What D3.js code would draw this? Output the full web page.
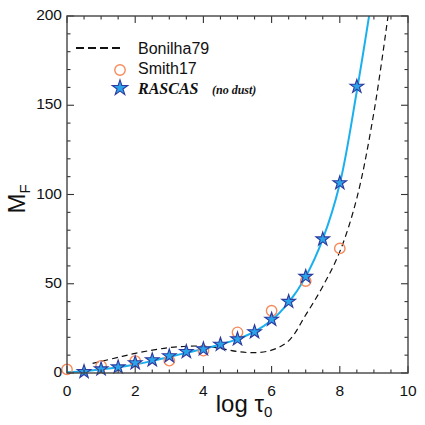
<!DOCTYPE html>
<html>
<head>
<meta charset="utf-8">
<script src="https://cdn.jsdelivr.net/npm/d3@7"></script>
<style>
  body { margin: 0; background: #fff; }
  text { font-family: "Liberation Sans", Arial, sans-serif; fill: #111; }
</style>
</head>
<body>
<svg id="chart" width="425" height="425"></svg>
<script>
// RASCAS (no dust) points
var rascasX = [0.5, 1, 1.5, 2, 2.5, 3, 3.5, 4, 4.5, 5, 5.5, 6, 6.5, 7, 7.5, 8, 8.5];
var rascasY = [0.7, 2.2, 3.3, 5.6, 7.3, 9.5, 11.9, 13.4, 16, 19, 23, 30, 40, 54, 75, 106.5, 160.5];

// Smith17 points
var smithX = [0, 1, 2, 3, 4, 5, 6, 7, 8];
var smithY = [2, 4, 6.7, 6.9, 12.5, 22.8, 34.9, 51.5, 69.8];

// solid fit line through the RASCAS points
var fitX = [0, 0.5, 1, 1.5, 2, 2.5, 3, 3.5, 4, 4.5, 5, 5.5, 6, 6.5, 7, 7.5, 8, 8.5, 8.9];
var fitY = [0.4, 1, 2, 3.2, 4.8, 6.8, 9, 11.3, 13.5, 16, 19, 23.2, 29.5, 39.5, 54, 75, 106, 158, 205];

// Bonilha79 dashed curve
var bonX = [0.75, 1, 1.5, 2, 2.5, 3, 3.5, 4, 4.5, 5, 5.5, 6, 6.5, 7, 7.5, 8, 8.5, 9, 9.45];
var bonY = [5.4, 6.5, 8.8, 11, 12.8, 14.2, 15, 15, 13.8, 12, 11.4, 12.8, 18, 32.5, 48.5, 68, 98, 146, 205];

var xTicks = [0, 2, 4, 6, 8, 10];
var yTicks = [0, 50, 100, 150, 200];

var margin = {top: 16, right: 17, bottom: 52, left: 67};
var width = 425 - margin.left - margin.right;
var height = 425 - margin.top - margin.bottom;

var svg = d3.select("#chart");
var g = svg.append("g").attr("transform", "translate(" + margin.left + "," + margin.top + ")");

var x = d3.scaleLinear().domain([0, 10]).range([0, width]);
var y = d3.scaleLinear().domain([0, 200]).range([height, 0]);

g.append("clipPath").attr("id", "clip")
  .append("rect").attr("width", width).attr("height", height);

// curves
var line = d3.line().x(d => x(d[0])).y(d => y(d[1])).curve(d3.curveCatmullRom);

g.append("path")
  .datum(d3.zip(bonX, bonY))
  .attr("clip-path", "url(#clip)")
  .attr("d", line)
  .attr("fill", "none")
  .attr("stroke", "#111")
  .attr("stroke-width", 1.2)
  .attr("stroke-dasharray", "6,4");

g.append("path")
  .datum(d3.zip(fitX, fitY))
  .attr("clip-path", "url(#clip)")
  .attr("d", line)
  .attr("fill", "none")
  .attr("stroke", "#1ab0ee")
  .attr("stroke-width", 2);

// Smith17 circles
g.selectAll(".smith")
  .data(d3.zip(smithX, smithY))
  .join("circle")
  .attr("cx", d => x(d[0]))
  .attr("cy", d => y(d[1]))
  .attr("r", 5.2)
  .attr("fill", "none")
  .attr("stroke", "#f58a5a")
  .attr("stroke-width", 1.4);

// RASCAS stars
var star = d3.symbol().type(d3.symbolStar).size(58);
g.selectAll(".star")
  .data(d3.zip(rascasX, rascasY))
  .join("path")
  .attr("transform", d => "translate(" + x(d[0]) + "," + y(d[1]) + ")")
  .attr("d", star)
  .attr("fill", "#2aa3e8")
  .attr("stroke", "#2e3a9e")
  .attr("stroke-width", 1.1);

// axes: ticks on all four sides pointing inward
function ticksX(sel, yPos, dir) {
  d3.range(0, 10.01, 0.5).forEach(function(v) {
    var len = (v % 2 === 0) ? 7 : 3.5;
    sel.append("line")
      .attr("x1", x(v)).attr("x2", x(v))
      .attr("y1", yPos).attr("y2", yPos + dir * len)
      .attr("stroke", "#333").attr("stroke-width", 1.1);
  });
}
function ticksY(sel, xPos, dir) {
  d3.range(0, 200.01, 10).forEach(function(v) {
    var len = (v % 50 === 0) ? 7 : 3.5;
    sel.append("line")
      .attr("x1", xPos).attr("x2", xPos + dir * len)
      .attr("y1", y(v)).attr("y2", y(v))
      .attr("stroke", "#333").attr("stroke-width", 1.1);
  });
}
ticksX(g, height, -1);
ticksX(g, 0, 1);
ticksY(g, 0, 1);
ticksY(g, width, -1);

g.append("rect")
  .attr("width", width).attr("height", height)
  .attr("fill", "none").attr("stroke", "#444").attr("stroke-width", 1.4);

g.selectAll(".xlab")
  .data(xTicks)
  .join("text")
  .attr("x", d => x(d))
  .attr("y", height + 23)
  .attr("text-anchor", "middle")
  .style("font-size", "15.5px")
  .text(d => d);

g.selectAll(".ylab")
  .data(yTicks)
  .join("text")
  .attr("x", -5)
  .attr("y", d => y(d) + 4)
  .attr("text-anchor", "end")
  .style("font-size", "15.5px")
  .text(d => d);

// axis titles
var xt = svg.append("text")
  .attr("x", 244).attr("y", 412)
  .attr("text-anchor", "middle")
  .style("font-size", "24px");
xt.append("tspan").text("log \u03c4");
xt.append("tspan").attr("dy", 5).style("font-size", "15px").text("0");

var yt = svg.append("text")
  .attr("transform", "translate(25,199) rotate(-90)")
  .attr("text-anchor", "middle")
  .style("font-size", "24px");
yt.append("tspan").text("M");
yt.append("tspan").attr("dy", 5).style("font-size", "15px").text("F");

// legend
var leg = svg.append("g");
leg.append("line")
  .attr("x1", 76).attr("x2", 120).attr("y1", 48).attr("y2", 48)
  .attr("stroke", "#111").attr("stroke-width", 2.2)
  .attr("stroke-dasharray", "8,4");
leg.append("text").attr("x", 138).attr("y", 53.5).style("font-size", "16px").text("Bonilha79");

leg.append("circle")
  .attr("cx", 120).attr("cy", 70).attr("r", 5.2)
  .attr("fill", "none").attr("stroke", "#f58a5a").attr("stroke-width", 1.4);
leg.append("text").attr("x", 138).attr("y", 74).style("font-size", "16px").text("Smith17");

leg.append("path")
  .attr("transform", "translate(120,88)")
  .attr("d", d3.symbol().type(d3.symbolStar).size(75))
  .attr("fill", "#2aa3e8").attr("stroke", "#2e3a9e").attr("stroke-width", 1.1);
leg.append("text").attr("x", 138).attr("y", 94)
  .style("font-family", "'Liberation Serif', 'Times New Roman', serif")
  .style("font-weight", "bold").style("font-style", "italic")
  .style("font-size", "16px").text("RASCAS");
leg.append("text").attr("x", 212).attr("y", 94)
  .style("font-family", "'Liberation Serif', 'Times New Roman', serif")
  .style("font-weight", "bold").style("font-style", "italic")
  .style("font-size", "12px").text("(no dust)");
</script>
</body>
</html>
